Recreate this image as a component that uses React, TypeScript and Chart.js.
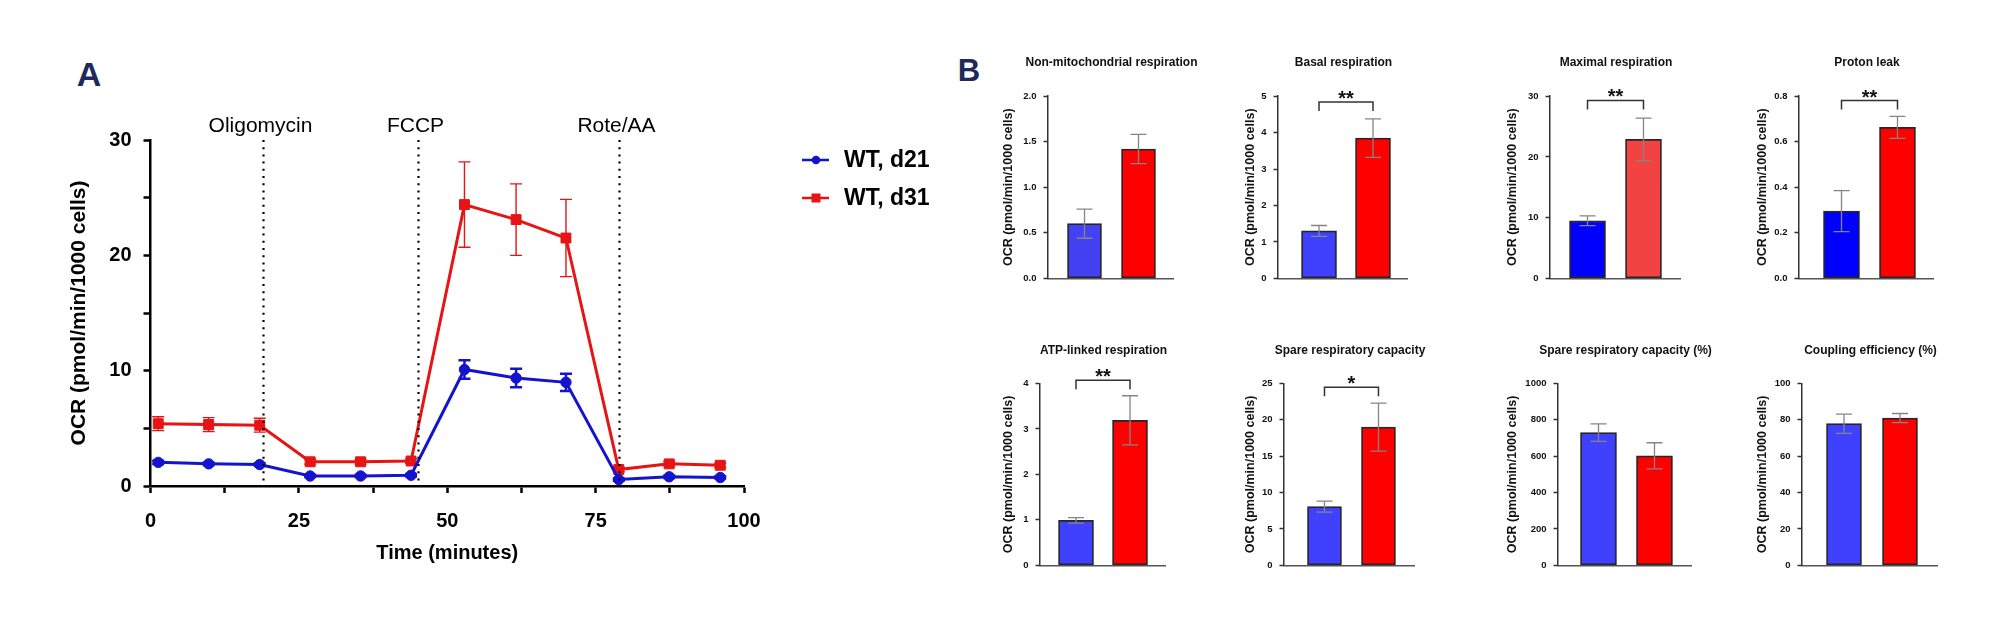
import React, { useEffect, useRef } from 'react';
import { Chart, registerables } from 'chart.js';

Chart.register(...registerables);

const FONT = '"Liberation Sans", Arial, Helvetica, sans-serif';

// ---------- Panel A data ----------
const timePoints = [1.3, 9.8, 18.4, 26.9, 35.4, 43.9, 52.9, 61.6, 70.0, 78.9, 87.4, 96.0];
const d21Values = [2.05, 1.92, 1.86, 0.87, 0.87, 0.93, 10.1, 9.36, 8.99, 0.56, 0.8, 0.74];
const d21Errors = [0.15, 0.12, 0.12, 0.1, 0.1, 0.1, 0.8, 0.8, 0.75, 0.1, 0.1, 0.1];
const d31Values = [5.4, 5.33, 5.27, 2.1, 2.1, 2.17, 24.4, 23.1, 21.5, 1.43, 1.92, 1.8];
const d31Errors = [0.6, 0.6, 0.6, 0.2, 0.2, 0.2, 3.7, 3.1, 3.35, 0.2, 0.2, 0.2];
const seriesLabels = ['WT, d21', 'WT, d31'];
const injectionTimes = [19, 45, 79];
const injectionLabels = ['Oligomycin', 'FCCP', 'Rote/AA'];
const yLabelTicksA = [0, 10, 20, 30];
const xLabelTicksA = [0, 25, 50, 75, 100];
const yAxisTitle = 'OCR (pmol/min/1000 cells)';
const xAxisTitleA = 'Time (minutes)';

// ---------- Panel B data ----------
const groupLabels = ['WT, d21', 'WT, d31'];
const panelTitles = [
  'Non-mitochondrial respiration',
  'Basal respiration',
  'Maximal respiration',
  'Proton leak',
  'ATP-linked respiration',
  'Spare respiratory capacity',
  'Spare respiratory capacity (%)',
  'Coupling efficiency (%)',
];
const nonMitoValues = [0.6, 1.42];
const nonMitoErrors = [0.16, 0.16];
const basalValues = [1.3, 3.85];
const basalErrors = [0.15, 0.53];
const maximalValues = [9.47, 22.9];
const maximalErrors = [0.8, 3.5];
const protonLeakValues = [0.295, 0.663];
const protonLeakErrors = [0.09, 0.048];
const atpValues = [0.99, 3.19];
const atpErrors = [0.06, 0.54];
const spareValues = [8.07, 19.0];
const spareErrors = [0.75, 3.3];
const sparePctValues = [730, 602];
const sparePctErrors = [48, 72];
const couplingValues = [77.9, 81.0];
const couplingErrors = [5.3, 2.5];
const yMaxB = [2, 5, 30, 0.8, 4, 25, 1000, 100];
const yStepB = [0.5, 1, 10, 0.2, 1, 5, 200, 20];
const yDecimalsB = [1, 0, 0, 1, 0, 0, 0, 0];
const sigMarks = ['', '**', '**', '**', '**', '*', '', ''];
const sigHeights = [0, 4.84, 29.3, 0.781, 4.07, 24.5, 0, 0];

const barValueSets = [nonMitoValues, basalValues, maximalValues, protonLeakValues, atpValues, spareValues, sparePctValues, couplingValues];
const barErrorSets = [nonMitoErrors, basalErrors, maximalErrors, protonLeakErrors, atpErrors, spareErrors, sparePctErrors, couplingErrors];

// ---------- layout / style (not data) ----------
type BarLayout = {
  axisX: number; right: number; top: number; bottom: number; titleY: number; labelX: number;
  xMin: number; xMax: number; barW: number; blue: string; red: string;
};
const ROW1 = { top: 96, bottom: 279, titleY: 62 };
const ROW2 = { top: 383.3, bottom: 566, titleY: 350 };
const barLayouts: BarLayout[] = [
  { axisX: 1047, right: 1173, ...ROW1, labelX: 1008, xMin: 0.315, xMax: 2.648, barW: 34, blue: '#4242f2', red: '#ff0000' },
  { axisX: 1277, right: 1407, ...ROW1, labelX: 1250, xMin: 0.231, xMax: 2.639, barW: 35, blue: '#4040ff', red: '#ff0000' },
  { axisX: 1549, right: 1680, ...ROW1, labelX: 1512, xMin: 0.321, xMax: 2.661, barW: 36, blue: '#0000ff', red: '#f24343' },
  { axisX: 1798, right: 1933, ...ROW1, labelX: 1762, xMin: 0.232, xMax: 2.643, barW: 36, blue: '#0000ff', red: '#ff0000' },
  { axisX: 1039, right: 1165, ...ROW2, labelX: 1008, xMin: 0.324, xMax: 2.657, barW: 35, blue: '#4040ff', red: '#ff0000' },
  { axisX: 1283, right: 1414, ...ROW2, labelX: 1250, xMin: 0.241, xMax: 2.667, barW: 34, blue: '#4040ff', red: '#ff0000' },
  { axisX: 1557, right: 1691, ...ROW2, labelX: 1512, xMin: 0.268, xMax: 2.661, barW: 36, blue: '#4040ff', red: '#ff0000' },
  { axisX: 1801, right: 1937, ...ROW2, labelX: 1762, xMin: 0.241, xMax: 2.67, barW: 35, blue: '#4040ff', red: '#ff0000' },
];
const B_TITLE_SIZE = 12;
const B_YTITLE_SIZE = 12.5;

function barGeometry(L: BarLayout) {
  const left = L.labelX - (B_YTITLE_SIZE * 1.2) / 2 - 4;
  const center = (L.axisX + L.right) / 2 + 1;
  const right = 2 * center - left;
  const top = L.titleY - (B_TITLE_SIZE * 1.2) / 2;
  const height = L.bottom - top + 12;
  return { left, top, width: right - left, height, rightGap: right - L.right };
}

const BLUE_A = '#1414cf';
const RED_A = '#e61414';

export default function App() {
  const lineRef = useRef<HTMLCanvasElement | null>(null);
  const barRefs = useRef<(HTMLCanvasElement | null)[]>([]);

  useEffect(() => {
    const charts: Chart[] = [];

    // ---------- Panel A ----------
    const errSetsA = [d21Errors, d31Errors];
    const errorBarsA = {
      id: 'errorBarsA',
      beforeDatasetsDraw(chart: any) {
        const { ctx } = chart;
        const xs = chart.scales.x;
        const ys = chart.scales.y;
        chart.data.datasets.forEach((ds: any, i: number) => {
          const errs = errSetsA[i];
          ctx.save();
          ctx.strokeStyle = ds.borderColor;
          ctx.lineWidth = i === 0 ? 2.5 : 1.4;
          ds.data.forEach((p: any, k: number) => {
            const x = xs.getPixelForValue(p.x);
            const y1 = ys.getPixelForValue(p.y + errs[k]);
            const y2 = ys.getPixelForValue(p.y - errs[k]);
            ctx.beginPath();
            ctx.moveTo(x, y1); ctx.lineTo(x, y2);
            ctx.moveTo(x - 6, y1); ctx.lineTo(x + 6, y1);
            ctx.moveTo(x - 6, y2); ctx.lineTo(x + 6, y2);
            ctx.stroke();
          });
          ctx.restore();
        });
      },
    };
    const injectionsA = {
      id: 'injectionsA',
      afterDraw(chart: any) {
        const { ctx } = chart;
        const xs = chart.scales.x;
        const ys = chart.scales.y;
        ctx.save();
        injectionTimes.forEach((t, i) => {
          const x = Math.round(xs.getPixelForValue(t)) + 0.5;
          ctx.strokeStyle = '#000';
          ctx.lineWidth = 2.2;
          ctx.setLineDash([2, 5.2]);
          ctx.beginPath();
          ctx.moveTo(x, ys.getPixelForValue(ys.max));
          ctx.lineTo(x, ys.getPixelForValue(0) - 3);
          ctx.stroke();
          ctx.setLineDash([]);
          ctx.fillStyle = '#000';
          ctx.font = `21px ${FONT}`;
          ctx.textAlign = 'center';
          ctx.textBaseline = 'middle';
          ctx.fillText(injectionLabels[i], x - 3, 126);
        });
        ctx.restore();
      },
    };
    const legendA = {
      id: 'legendA',
      afterDraw(chart: any) {
        const { ctx } = chart;
        chart.data.datasets.forEach((ds: any, i: number) => {
          const y = 160 + i * 38;
          ctx.save();
          ctx.strokeStyle = ds.borderColor;
          ctx.lineWidth = 2.5;
          ctx.beginPath();
          ctx.moveTo(802, y); ctx.lineTo(829, y);
          ctx.stroke();
          ctx.fillStyle = ds.backgroundColor;
          if (ds.pointStyle === 'rect') {
            ctx.fillRect(816 - 4.5, y - 4.5, 9, 9);
          } else {
            ctx.beginPath();
            ctx.arc(816, y, 4.3, 0, Math.PI * 2);
            ctx.fill();
          }
          ctx.fillStyle = '#000';
          ctx.font = `bold 23px ${FONT}`;
          ctx.textAlign = 'left';
          ctx.textBaseline = 'middle';
          ctx.fillText(ds.label, 844, y + 1);
          ctx.restore();
        });
      },
    };

    if (lineRef.current) {
      const tickFont = { family: FONT, size: 20, weight: 'bold' as const };
      charts.push(
        new Chart(lineRef.current, {
          type: 'line',
          data: {
            datasets: [
              {
                label: seriesLabels[0],
                data: timePoints.map((t, k) => ({ x: t, y: d21Values[k] })),
                borderColor: BLUE_A,
                backgroundColor: BLUE_A,
                borderWidth: 3,
                pointStyle: 'circle',
                pointRadius: 5.2,
                pointBorderWidth: 1,
                tension: 0,
              },
              {
                label: seriesLabels[1],
                data: timePoints.map((t, k) => ({ x: t, y: d31Values[k] })),
                borderColor: RED_A,
                backgroundColor: RED_A,
                borderWidth: 3,
                pointStyle: 'rect',
                pointRadius: 7,
                pointBorderWidth: 1,
                tension: 0,
              },
            ],
          },
          options: {
            responsive: false,
            animation: false,
            layout: { padding: { left: 62.4, right: 256, top: 140, bottom: 54.4 } },
            plugins: { legend: { display: false }, tooltip: { enabled: false }, title: { display: false } },
            scales: {
              x: {
                type: 'linear',
                min: 0,
                max: 100,
                offset: false,
                ticks: {
                  stepSize: 12.5,
                  autoSkip: false,
                  maxRotation: 0,
                  padding: 16,
                  color: '#000',
                  font: tickFont,
                  callback: (v: any) => (xLabelTicksA.includes(Number(v)) ? String(v) : ''),
                },
                grid: { drawOnChartArea: false, drawTicks: true, tickLength: 7, tickColor: '#000', tickWidth: 2.5 },
                border: { color: '#000', width: 2.5 },
                title: { display: true, text: xAxisTitleA, color: '#000', font: { family: FONT, size: 20, weight: 'bold' }, padding: { top: 4, bottom: 4 } },
                afterFit: (s: any) => { s.height = 83.6; },
              },
              y: {
                min: 0,
                max: 30,
                ticks: {
                  stepSize: 5,
                  autoSkip: false,
                  padding: 12,
                  color: '#000',
                  font: tickFont,
                  callback: (v: any) => (yLabelTicksA.includes(Number(v)) ? String(v) : ''),
                },
                grid: { drawOnChartArea: false, drawTicks: true, tickLength: 7, tickColor: '#000', tickWidth: 2.5 },
                border: { color: '#000', width: 2.5 },
                title: { display: true, text: yAxisTitle, color: '#000', font: { family: FONT, size: 21, weight: 'bold' }, padding: { top: 4, bottom: 4 } },
                afterFit: (s: any) => { s.width = 88.1; },
              },
            },
          },
          plugins: [errorBarsA, injectionsA, legendA],
        })
      );
    }

    // ---------- Panel B ----------
    barLayouts.forEach((L, i) => {
      const canvas = barRefs.current[i];
      if (!canvas) return;
      const g = barGeometry(L);
      const vals = barValueSets[i];
      const errs = barErrorSets[i];
      const extras = {
        id: 'barExtras' + i,
        afterDatasetsDraw(chart: any) {
          const { ctx } = chart;
          const xs = chart.scales.x;
          const ys = chart.scales.y;
          ctx.save();
          ctx.strokeStyle = '#858585';
          ctx.lineWidth = 1.3;
          vals.forEach((v, k) => {
            const x = xs.getPixelForValue(k + 1);
            const y1 = ys.getPixelForValue(v + errs[k]);
            const y2 = ys.getPixelForValue(v - errs[k]);
            ctx.beginPath();
            ctx.moveTo(x, y1); ctx.lineTo(x, y2);
            ctx.moveTo(x - 8, y1); ctx.lineTo(x + 8, y1);
            ctx.moveTo(x - 8, y2); ctx.lineTo(x + 8, y2);
            ctx.stroke();
          });
          ctx.restore();
        },
        afterDraw(chart: any) {
          const mark = sigMarks[i];
          if (!mark) return;
          const { ctx } = chart;
          const xs = chart.scales.x;
          const ys = chart.scales.y;
          const x1 = xs.getPixelForValue(1);
          const x2 = xs.getPixelForValue(2);
          const yb = ys.getPixelForValue(sigHeights[i]);
          ctx.save();
          ctx.strokeStyle = '#333';
          ctx.lineWidth = 1.5;
          ctx.beginPath();
          ctx.moveTo(x1, yb + 9); ctx.lineTo(x1, yb); ctx.lineTo(x2, yb); ctx.lineTo(x2, yb + 9);
          ctx.stroke();
          ctx.fillStyle = '#111';
          ctx.font = `bold 20px ${FONT}`;
          ctx.textAlign = 'center';
          ctx.textBaseline = 'alphabetic';
          ctx.fillText(mark, (x1 + x2) / 2, yb + 3);
          ctx.restore();
        },
      };
      charts.push(
        new Chart(canvas, {
          type: 'bar',
          data: {
            datasets: [
              {
                label: panelTitles[i],
                data: vals.map((v, k) => ({ x: k + 1, y: v })),
                backgroundColor: [L.blue, L.red],
                borderColor: '#262626',
                borderWidth: 1.7,
                borderSkipped: false,
                barThickness: L.barW,
              },
            ],
          },
          options: {
            responsive: false,
            animation: false,
            layout: { padding: { left: 0, right: 0, top: 0, bottom: 12 } },
            plugins: {
              legend: { display: false },
              tooltip: { enabled: false },
              title: {
                display: true,
                text: panelTitles[i],
                color: '#111',
                font: { family: FONT, size: B_TITLE_SIZE, weight: 'bold' },
                padding: { top: 0, bottom: L.top - L.titleY - (B_TITLE_SIZE * 1.2) / 2 },
              },
            },
            scales: {
              x: {
                type: 'linear',
                min: L.xMin,
                max: L.xMax,
                offset: false,
                ticks: { display: false },
                grid: { display: false, offset: false },
                border: { color: '#555', width: 1.5 },
                afterFit: (s: any) => { s.height = 0; },
              },
              y: {
                min: 0,
                max: yMaxB[i],
                ticks: {
                  stepSize: yStepB[i],
                  autoSkip: false,
                  padding: 7,
                  color: '#111',
                  font: { family: FONT, size: 9.5, weight: 'bold' },
                  callback: (v: any) => Number(v).toFixed(yDecimalsB[i]),
                },
                grid: { drawOnChartArea: false, drawTicks: true, tickLength: 4, tickColor: '#333', tickWidth: 1.5 },
                border: { color: '#333', width: 1.5 },
                title: {
                  display: true,
                  text: yAxisTitle,
                  color: '#111',
                  font: { family: FONT, size: B_YTITLE_SIZE, weight: 'bold' },
                  padding: { top: 4, bottom: 4 },
                },
                afterFit: (s: any) => { s.width = L.axisX - g.left; },
              },
              spacer: {
                type: 'linear',
                position: 'right',
                display: true,
                ticks: { display: false },
                grid: { display: false },
                border: { display: false },
                afterFit: (s: any) => { s.width = g.rightGap; },
              },
            },
          },
          plugins: [extras],
        })
      );
    });

    return () => charts.forEach((c) => c.destroy());
  }, []);

  return (
    <div style={{ position: 'absolute', left: 0, top: 0, width: 2000, height: 624, background: '#fff', overflow: 'hidden' }}>
      <div
        style={{
          position: 'absolute', left: 89, top: 74, transform: 'translate(-50%, -50%)',
          font: `bold 34px ${FONT}`, lineHeight: 1, color: '#1f2a5c',
        }}
      >
        A
      </div>
      <div
        style={{
          position: 'absolute', left: 969, top: 70, transform: 'translate(-50%, -50%)',
          font: `bold 31px ${FONT}`, lineHeight: 1, color: '#1f2a5c',
        }}
      >
        B
      </div>
      <canvas ref={lineRef} width={1000} height={624} style={{ position: 'absolute', left: 0, top: 0 }} />
      {barLayouts.map((L, i) => {
        const g = barGeometry(L);
        return (
          <canvas
            key={i}
            ref={(el) => { barRefs.current[i] = el; }}
            width={Math.round(g.width)}
            height={Math.round(g.height)}
            aria-label={`${panelTitles[i]}: ${groupLabels.join(' vs ')}`}
            style={{ position: 'absolute', left: g.left, top: g.top }}
          />
        );
      })}
    </div>
  );
}
